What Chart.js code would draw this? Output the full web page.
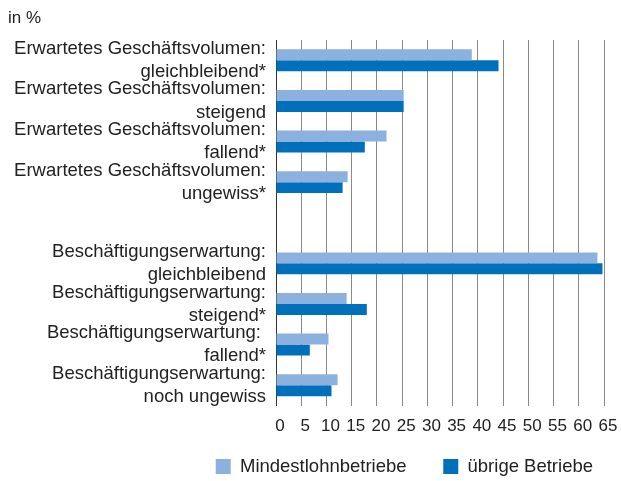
<!DOCTYPE html>
<html>
<head>
<meta charset="utf-8">
<script src="https://cdn.jsdelivr.net/npm/chart.js@4/dist/chart.umd.min.js"></script>
<style>
	body { margin: 0; background: #fff; }
</style>
</head>
<body>
<canvas id="chart" width="621" height="481"></canvas>
<script>
var categories = [
	['Erwartetes Geschäftsvolumen:', 'gleichbleibend*'],
	['Erwartetes Geschäftsvolumen:', 'steigend'],
	['Erwartetes Geschäftsvolumen:', 'fallend*'],
	['Erwartetes Geschäftsvolumen:', 'ungewiss*'],
	'',
	['Beschäftigungserwartung:', 'gleichbleibend'],
	['Beschäftigungserwartung:', 'steigend*'],
	['Beschäftigungserwartung: ', 'fallend*'],
	['Beschäftigungserwartung:', 'noch ungewiss']
];
var mindestlohn = [38.8, 25.3, 21.9, 14.2, null, 63.7, 14.0, 10.4, 12.2];
var uebrige = [44.1, 25.3, 17.6, 13.2, null, 64.7, 18.0, 6.7, 11.0];
var seriesNames = ['Mindestlohnbetriebe', 'übrige Betriebe'];
var xTicks = [0, 65, 5]; // min, max, step

var font = 'Liberation Sans, Arial, Helvetica, sans-serif';
var textColor = '#222';

var ctx = document.getElementById('chart');

var chart = new Chart(ctx, {
	type: 'bar',
	data: {
		labels: categories,
		datasets: [{
			label: seriesNames[0],
			data: mindestlohn,
			backgroundColor: '#8DB1DE'
		}, {
			label: seriesNames[1],
			data: uebrige,
			backgroundColor: '#0070BB'
		}]
	},
	options: {
		indexAxis: 'y',
		responsive: false,
		animation: false,
		devicePixelRatio: 1,
		categoryPercentage: 0.54,
		barPercentage: 1,
		layout: {
			padding: { left: 8, right: 17, top: 0, bottom: -4.75 }
		},
		scales: {
			x: {
				min: xTicks[0],
				max: xTicks[1],
				grid: {
					color: '#8a8a8a',
					lineWidth: 1,
					drawTicks: true,
					tickLength: 9,
					tickColor: 'rgba(0,0,0,0)'
				},
				border: { display: false },
				ticks: {
					stepSize: xTicks[2],
					autoSkip: false,
					maxRotation: 0,
					padding: 2,
					labelOffset: 4,
					color: textColor,
					font: { family: font, size: 17 }
				},
				afterFit: function(scale) {
					scale.height = 40.75;
				}
			},
			y: {
				grid: { display: false, drawTicks: false },
				border: { display: true, color: '#333', width: 1 },
				ticks: {
					autoSkip: false,
					padding: 10,
					color: textColor,
					font: { family: font, size: 18.5, lineHeight: 1.25 }
				},
				afterFit: function(scale) {
					scale.width = 268;
				}
			}
		},
		plugins: {
			title: {
				display: true,
				text: 'in %',
				align: 'start',
				color: textColor,
				font: { family: font, size: 17, weight: 'normal' },
				padding: { top: 8, bottom: 11.6 }
			},
			legend: {
				position: 'bottom',
				align: 'end',
				labels: {
					boxWidth: 15,
					boxHeight: 15,
					padding: 11,
					color: textColor,
					font: { family: font, size: 18.5 },
					generateLabels: function(chart) {
						var items = Chart.defaults.plugins.legend.labels.generateLabels(chart);
						items[0].text += '     ';
						return items;
					}
				}
			},
			tooltip: { enabled: false }
		}
	}
});
</script>
</body>
</html>
